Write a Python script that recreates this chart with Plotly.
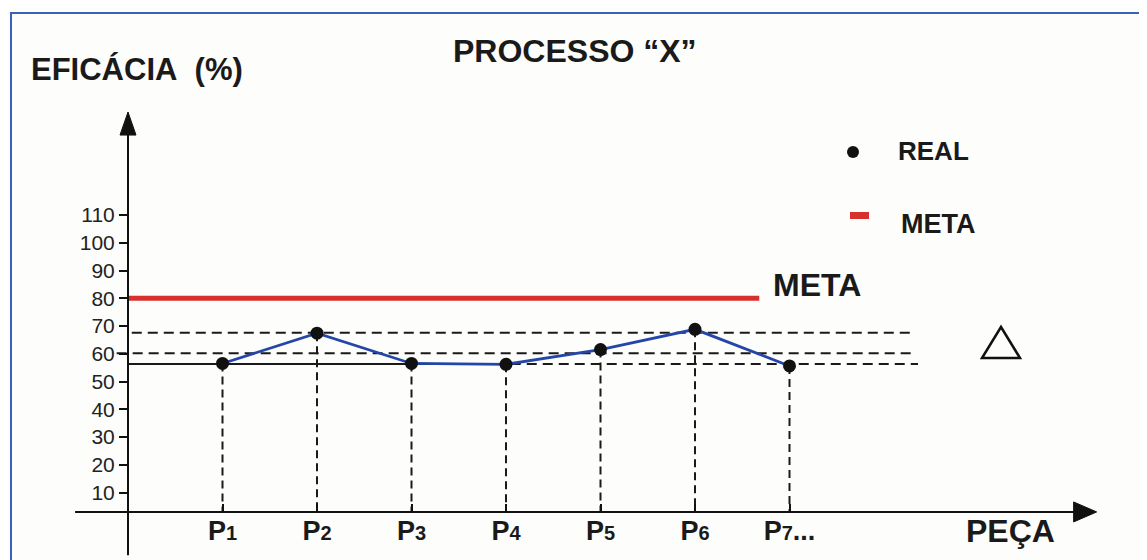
import plotly.graph_objects as go

# ---- data ----
pecas = [1, 2, 3, 4, 5, 6, 7]
rotulos_num = ["1", "2", "3", "4", "5", "6", "7"]
rotulos_suf = ["", "", "", "", "", "", "..."]
real = [56.5, 67.4, 56.5, 56.2, 61.5, 68.8, 55.6]
meta = 80
meta_fim = 6.68
faixa = [56.3, 60.2, 67.6]          # lower (min), middle, upper (max) reference lines
y_ticks = [10, 20, 30, 40, 50, 60, 70, 80, 90, 100, 110]

W, H = 1147, 560
OFF = 8            # page body margin compensation
X0_PX, X_UNIT = 128, 94.5
Y0_PX, Y_UNIT = 520.25, 2.775
X_RANGE = [(OFF - X0_PX) / X_UNIT, (W + OFF - X0_PX) / X_UNIT]
Y_RANGE = [(Y0_PX - (H + OFF)) / Y_UNIT, (Y0_PX - OFF) / Y_UNIT]
EIXO_Y = 3.0       # where the horizontal axis line sits
EIXO_X = 0.0

BLUE = "#2346a8"
RED = "#d8312d"
FONT = "Arial, Liberation Sans, sans-serif"


def px(x):
    return (x - OFF) / W


def py(y):
    return 1 - (y - OFF) / H


fig = go.Figure()

# vertical dashed drop lines from each point to the axis
vx, vy = [], []
for xv, yv in zip(pecas, real):
    vx += [xv, xv, None]
    vy += [yv, EIXO_Y, None]
fig.add_trace(go.Scatter(x=vx, y=vy, mode="lines",
                         line=dict(color="#1a1a1a", width=2, dash="8px,5px"),
                         hoverinfo="skip", showlegend=False))

# horizontal reference lines (min solid part + dashed, middle, max)
fig.add_trace(go.Scatter(x=[EIXO_X, 4.05], y=[faixa[0], faixa[0]], mode="lines",
                         line=dict(color="#1a1a1a", width=2),
                         hoverinfo="skip", showlegend=False))
fig.add_trace(go.Scatter(x=[4.05, 8.36], y=[faixa[0], faixa[0]], mode="lines",
                         line=dict(color="#1a1a1a", width=2, dash="10px,6px"),
                         hoverinfo="skip", showlegend=False))
fig.add_trace(go.Scatter(x=[-0.12, 8.3], y=[faixa[1], faixa[1]], mode="lines",
                         line=dict(color="#1a1a1a", width=2, dash="10px,6px"),
                         hoverinfo="skip", showlegend=False))
fig.add_trace(go.Scatter(x=[0.04, 8.3], y=[faixa[2], faixa[2]], mode="lines",
                         line=dict(color="#1a1a1a", width=2, dash="10px,6px"),
                         hoverinfo="skip", showlegend=False))

# META line
fig.add_trace(go.Scatter(x=[EIXO_X, meta_fim], y=[meta, meta], mode="lines",
                         line=dict(color=RED, width=5),
                         name="META", showlegend=False))

# REAL series
fig.add_trace(go.Scatter(x=pecas, y=real, mode="lines+markers",
                         line=dict(color=BLUE, width=2.8),
                         marker=dict(color="#111111", size=13),
                         name="REAL", showlegend=False))

shapes = []
# y axis line + arrow
shapes.append(dict(type="line", xref="x", yref="y", x0=EIXO_X, x1=EIXO_X,
                   y0=-12.6, y1=140, line=dict(color="#111", width=2)))
shapes.append(dict(type="path", xref="x", yref="y", xsizemode="pixel", ysizemode="pixel",
                   xanchor=EIXO_X, yanchor=147.1,
                   path="M 0 0 L -8 -23 L 8 -23 Z", fillcolor="#111",
                   line=dict(color="#111", width=1)))
# x axis line + arrow
shapes.append(dict(type="line", xref="x", yref="y", x0=-0.56, x1=10.05,
                   y0=EIXO_Y, y1=EIXO_Y, line=dict(color="#111", width=2)))
shapes.append(dict(type="path", xref="x", yref="y", xsizemode="pixel", ysizemode="pixel",
                   xanchor=10.25, yanchor=EIXO_Y,
                   path="M 0 0 L -23 10 L -23 -10 Z", fillcolor="#111",
                   line=dict(color="#111", width=1)))
# triangle (delta)
shapes.append(dict(type="path", xref="paper", yref="paper",
                   path=f"M {px(1001)} {py(327)} L {px(982)} {py(358)} L {px(1020)} {py(358)} Z",
                   line=dict(color="#111", width=2.5), fillcolor="rgba(0,0,0,0)"))
# legend markers
shapes.append(dict(type="circle", xref="paper", yref="paper",
                   x0=px(847), x1=px(859), y0=py(158), y1=py(146),
                   fillcolor="#111", line=dict(color="#111", width=0)))
shapes.append(dict(type="rect", xref="paper", yref="paper",
                   x0=px(850), x1=px(869), y0=py(219), y1=py(212),
                   fillcolor=RED, line=dict(width=0)))
# page frame (blue)
shapes.append(dict(type="line", xref="paper", yref="paper",
                   x0=px(10), x1=1, y0=py(13), y1=py(13),
                   line=dict(color="#3a63b8", width=2)))
shapes.append(dict(type="line", xref="paper", yref="paper",
                   x0=px(11), x1=px(11), y0=py(13), y1=0,
                   line=dict(color="#3a63b8", width=2)))

annotations = [
    dict(text="<b>PROCESSO “X”</b>", x=px(575), y=py(51), xref="paper", yref="paper",
         showarrow=False, font=dict(family=FONT, size=32, color="#1a1a1a"),
         xanchor="center", yanchor="middle"),
    dict(text="<b>EFICÁCIA&nbsp; (%)</b>", x=px(29), y=py(69), xref="paper", yref="paper",
         showarrow=False, font=dict(family=FONT, size=31, color="#1a1a1a"),
         xanchor="left", yanchor="middle"),
    dict(text="<b>META</b>", x=px(771), y=py(285), xref="paper", yref="paper",
         showarrow=False, font=dict(family=FONT, size=32, color="#1a1a1a"),
         xanchor="left", yanchor="middle"),
    dict(text="<b>REAL</b>", x=px(896), y=py(151), xref="paper", yref="paper",
         showarrow=False, font=dict(family=FONT, size=26, color="#1a1a1a"),
         xanchor="left", yanchor="middle"),
    dict(text="<b>META</b>", x=px(899), y=py(224), xref="paper", yref="paper",
         showarrow=False, font=dict(family=FONT, size=27, color="#1a1a1a"),
         xanchor="left", yanchor="middle"),
    dict(text="<b>PEÇA</b>", x=px(1011), y=py(531), xref="paper", yref="paper",
         showarrow=False, font=dict(family=FONT, size=32, color="#1a1a1a"),
         xanchor="center", yanchor="middle"),
]

ticktext = [f"<b>P<span style='font-size:20px'>{n}</span>{s}</b>"
            for n, s in zip(rotulos_num, rotulos_suf)]

fig.update_layout(
    width=W, height=H,
    margin=dict(l=0, r=0, t=0, b=0),
    paper_bgcolor="#fdfdfb", plot_bgcolor="#fdfdfb",
    showlegend=False,
    shapes=shapes, annotations=annotations,
    xaxis=dict(range=X_RANGE, domain=[0, 1], anchor="free", position=1 - (511.5 - OFF) / H,
               tickvals=pecas, ticktext=ticktext,
               ticks="inside", ticklen=8, tickwidth=2, tickcolor="#111",
               showgrid=False, zeroline=False, showline=False,
               tickfont=dict(family=FONT, size=27, color="#1a1a1a")),
    yaxis=dict(range=Y_RANGE, domain=[0, 1], anchor="free", position=(X0_PX - OFF) / W,
               tickvals=y_ticks, ticktext=[str(v) for v in y_ticks],
               ticks="outside", ticklen=9, tickwidth=2, tickcolor="#111",
               showgrid=False, zeroline=False, showline=False,
               tickfont=dict(family=FONT, size=21, color="#222")),
)

fig.write_html("out.html")
